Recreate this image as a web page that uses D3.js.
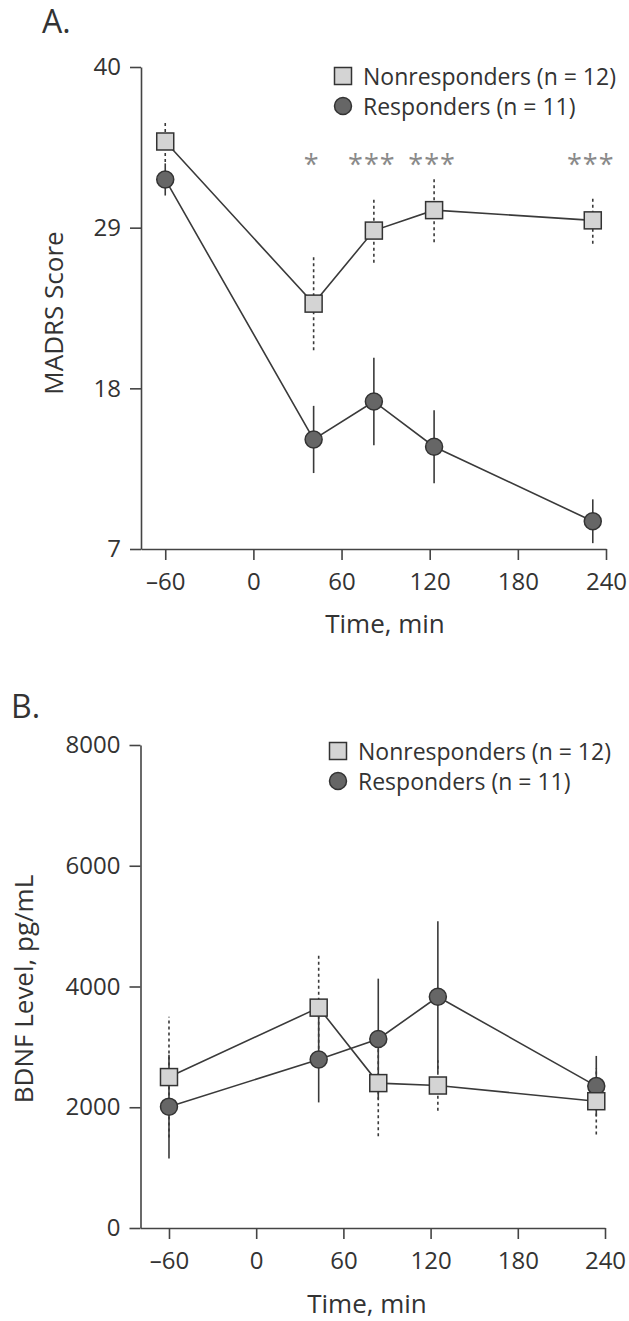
<!DOCTYPE html>
<html>
<head>
<meta charset="utf-8">
<script src="https://cdn.jsdelivr.net/npm/d3@7"></script>
<style>
  body { margin: 0; background: #fff; }
  svg text { font-family: "Open Sans", sans-serif; fill: #333; }
</style>
</head>
<body>
<svg id="chart" width="629" height="1321"></svg>
<script>
// Panel A - MADRS score
var timesA = [-60, 41, 82, 123, 231];
var madrsNon = [34.9, 23.8, 28.8, 30.2, 29.5];
var madrsNonErr = [1.4, 3.2, 2.2, 2.2, 1.6];
var madrsResp = [32.3, 14.5, 17.1, 14.0, 8.9];
var madrsRespErr = [1.1, 2.3, 3.0, 2.5, 1.5];
var madrsStars = ["", "*", "***", "***", "***"];
var madrsTicks = [7, 18, 29, 40];

// Panel B - BDNF level
var timesB = [-60, 43, 84, 125, 234];
var bdnfNon = [2500, 3650, 2400, 2360, 2100];
var bdnfNonErr = [1000, 880, 880, 420, 550];
var bdnfResp = [2010, 2790, 3130, 3830, 2350];
var bdnfRespErr = [860, 710, 1000, 1250, 500];
var bdnfTicks = [0, 2000, 4000, 6000, 8000];

var timeTicks = [-60, 0, 60, 120, 180, 240];
var legendLabels = ["Nonresponders (n = 12)", "Responders (n = 11)"];

var svg = d3.select("#chart");
var ink = "#3a3a3a";

function fmtTime(d) {
  return d < 0 ? "\u2013" + Math.abs(d) : String(d);
}

function drawPanel(p) {
  var g = svg.append("g");

  var x = d3.scaleLinear().domain(p.xDomain).range(p.xRange);
  var y = d3.scaleLinear().domain(p.yDomain).range(p.yRange);

  // panel letter
  g.append("text")
    .attr("x", p.letterX).attr("y", p.letterY)
    .style("font-size", "32px")
    .text(p.letter);

  // axes
  var yAxis = g.append("g")
    .attr("transform", "translate(" + p.xRange[0] + ",0)")
    .call(d3.axisLeft(y).tickValues(p.yTicks).tickFormat(d3.format("d"))
      .tickSize(11).tickSizeOuter(0).tickPadding(9));
  var xAxis = g.append("g")
    .attr("transform", "translate(0," + p.yRange[0] + ")")
    .call(d3.axisBottom(x).tickValues(timeTicks).tickFormat(fmtTime).tickSize(11).tickSizeOuter(0));
  [xAxis, yAxis].forEach(function(a) {
    a.select(".domain").attr("stroke", "#444").attr("stroke-width", 1.6);
    a.selectAll(".tick line").attr("stroke", "#444").attr("stroke-width", 1.6);
    a.selectAll("text").style("font-size", "24px").attr("fill", "#333");
  });
  xAxis.selectAll("text").attr("dy", null).attr("y", 41);

  // axis titles
  g.append("text")
    .attr("x", p.xTitleX).attr("y", p.xTitleY)
    .attr("text-anchor", "middle")
    .style("font-size", "26px")
    .text("Time, min");
  g.append("text")
    .attr("transform", "translate(" + p.yTitleX + "," + p.yTitleY + ") rotate(-90)")
    .attr("text-anchor", "middle")
    .style("font-size", "26px")
    .text(p.yTitle);

  var line = d3.line()
    .x(function(d) { return x(d.t); })
    .y(function(d) { return y(d.v); });

  var series = [
    { name: "non", vals: p.non, errs: p.nonErr, dash: "3,3" },
    { name: "resp", vals: p.resp, errs: p.respErr, dash: null }
  ];
  series.forEach(function(s) {
    s.pts = s.vals.map(function(v, i) { return { t: p.times[i], v: v, e: s.errs[i] }; });
  });

  // error bars
  series.forEach(function(s) {
    g.selectAll(".err-" + s.name)
      .data(s.pts)
      .enter().append("line")
      .attr("x1", function(d) { return x(d.t); })
      .attr("x2", function(d) { return x(d.t); })
      .attr("y1", function(d) { return y(d.v - d.e); })
      .attr("y2", function(d) { return y(d.v + d.e); })
      .attr("stroke", ink)
      .attr("stroke-width", 1.6)
      .attr("stroke-dasharray", s.dash);
  });

  // connecting lines
  series.forEach(function(s) {
    g.append("path")
      .datum(s.pts)
      .attr("d", line)
      .attr("fill", "none")
      .attr("stroke", ink)
      .attr("stroke-width", 1.6);
  });

  // markers
  g.selectAll(".resp")
    .data(series[1].pts)
    .enter().append("circle")
    .attr("cx", function(d) { return x(d.t); })
    .attr("cy", function(d) { return y(d.v); })
    .attr("r", 8.5)
    .attr("fill", "#666")
    .attr("stroke", "#333")
    .attr("stroke-width", 1.5);
  g.selectAll(".non")
    .data(series[0].pts)
    .enter().append("rect")
    .attr("x", function(d) { return x(d.t) - 8.5; })
    .attr("y", function(d) { return y(d.v) - 8.5; })
    .attr("width", 17).attr("height", 17)
    .attr("fill", "#d4d4d4")
    .attr("stroke", "#333")
    .attr("stroke-width", 1.5);

  // significance stars
  if (p.stars) {
    g.selectAll(".star")
      .data(p.stars)
      .enter().append("text")
      .attr("x", function(d, i) { return x(p.times[i]) - 2; })
      .attr("y", p.starY)
      .attr("text-anchor", "middle")
      .style("font-size", "27px")
      .style("letter-spacing", "1px")
      .style("fill", "#8a8a8a")
      .text(function(d) { return d; });
  }

  // legend
  var lg = g.append("g").attr("transform", "translate(" + p.legendX + "," + p.legendY + ")");
  lg.append("rect")
    .attr("x", -8.5).attr("y", -8.5).attr("width", 17).attr("height", 17)
    .attr("fill", "#d4d4d4").attr("stroke", "#333").attr("stroke-width", 1.5);
  lg.append("circle")
    .attr("cx", 0).attr("cy", 30).attr("r", 8.5)
    .attr("fill", "#666").attr("stroke", "#333").attr("stroke-width", 1.5);
  lg.selectAll(".lab")
    .data(legendLabels)
    .enter().append("text")
    .attr("x", 20)
    .attr("y", function(d, i) { return 9 + i * 30; })
    .style("font-size", "23px")
    .text(function(d) { return d; });
}

drawPanel({
  letter: "A.", letterX: 42, letterY: 33,
  xDomain: [-76.5, 240], xRange: [141, 606],
  yDomain: [7, 40], yRange: [549, 67], yTicks: madrsTicks,
  times: timesA, non: madrsNon, nonErr: madrsNonErr, resp: madrsResp, respErr: madrsRespErr,
  stars: madrsStars, starY: 174,
  xTitleX: 385, xTitleY: 633,
  yTitle: "MADRS Score", yTitleX: 63, yTitleY: 313,
  legendX: 343, legendY: 76
});

drawPanel({
  letter: "B.", letterX: 11, letterY: 718,
  xDomain: [-79.6, 240], xRange: [140.5, 605],
  yDomain: [0, 8000], yRange: [1228, 745], yTicks: bdnfTicks,
  times: timesB, non: bdnfNon, nonErr: bdnfNonErr, resp: bdnfResp, respErr: bdnfRespErr,
  stars: null,
  xTitleX: 367, xTitleY: 1313,
  yTitle: "BDNF Level, pg/mL", yTitleX: 33, yTitleY: 989,
  legendX: 338, legendY: 751
});
</script>
</body>
</html>
